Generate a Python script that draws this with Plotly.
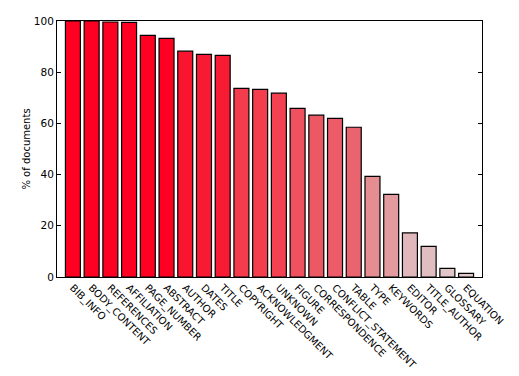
import plotly.graph_objects as go

categories = ["BIB_INFO", "BODY_CONTENT", "REFERENCES", "AFFILIATION", "PAGE_NUMBER",
              "ABSTRACT", "AUTHOR", "DATES", "TITLE", "COPYRIGHT", "ACKNOWLEDGMENT",
              "UNKNOWN", "FIGURE", "CORRESPONDENCE", "CONFLICT_STATEMENT", "TABLE",
              "TYPE", "KEYWORDS", "EDITOR", "TITLE_AUTHOR", "GLOSSARY", "EQUATION"]
values = [100.0, 100.0, 99.6, 99.5, 94.4, 93.2, 88.2, 87.0, 86.6, 73.7, 73.3,
          71.8, 65.9, 63.2, 62.0, 58.5, 39.3, 32.3, 17.2, 12.0, 3.4, 1.4]
y_ticks = [0, 20, 40, 60, 80, 100]

colorscale = [
    [0.0, "#e0cacc"],
    [0.17, "#e0b8bb"],
    [0.39, "#e58f93"],
    [0.585, "#ea6470"],
    [0.737, "#f43c4c"],
    [0.87, "#f81a33"],
    [0.93, "#ff0022"],
    [1.0, "#ff0022"],
]

fig = go.Figure(go.Bar(
    x=categories,
    y=values,
    width=0.8,
    marker=dict(color=values, colorscale=colorscale, cmin=0, cmax=100,
                line=dict(color="black", width=1.2)),
    hoverinfo="skip",
))

fig.update_layout(
    width=519, height=376,
    margin=dict(l=57, r=37, t=21, b=99),
    paper_bgcolor="white", plot_bgcolor="white",
    showlegend=False,
    font=dict(family="DejaVu Sans", size=10, color="black"),
    bargap=0.2,
)
fig.update_xaxes(
    range=[-0.85, 21.85],
    tickangle=45,
    automargin=False,
    showline=True, linecolor="black", linewidth=1, mirror=True,
    ticks="", showgrid=False,
    tickfont=dict(size=10),
)
fig.update_yaxes(
    range=[0, 100],
    tickvals=y_ticks,
    automargin=False,
    ticks="inside", ticklen=4, tickcolor="black", tickwidth=1,
    showline=True, linecolor="black", linewidth=1, mirror="allticks",
    showgrid=False, zeroline=False,
    title=dict(text="% of documents", font=dict(size=10), standoff=1),
    tickfont=dict(size=10.5),
)

fig.write_html("out.html", config={"displayModeBar": False},
               post_script="document.body.style.margin='0';document.body.style.overflow='hidden';")
